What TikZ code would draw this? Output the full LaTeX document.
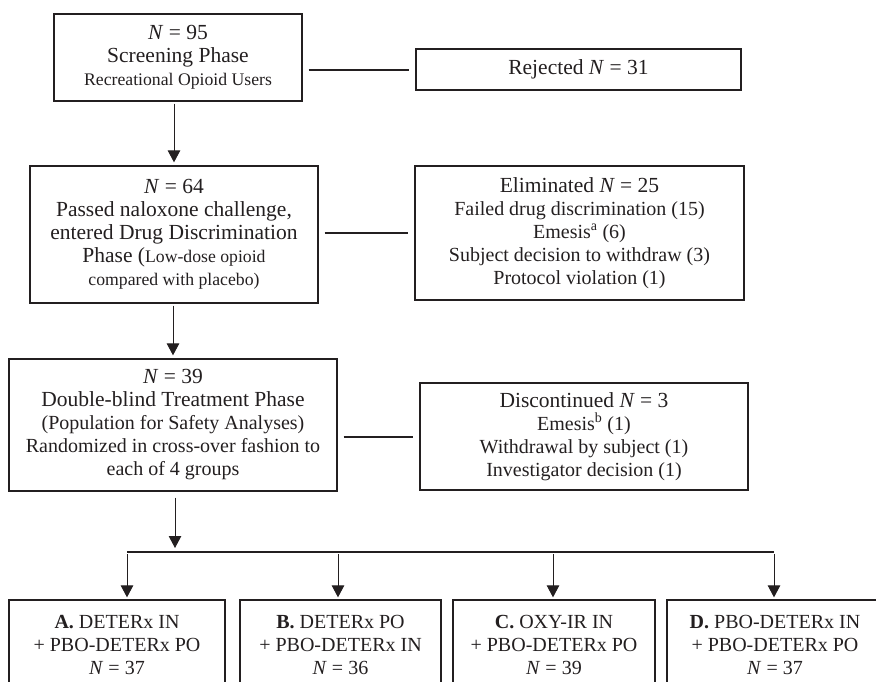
\documentclass[tikz,border=0pt]{standalone}
\usepackage{fontspec}
\setmainfont{Liberation Serif}
\usepackage{tikz}
\usetikzlibrary{arrows.meta}
\definecolor{flowink}{HTML}{231F20}
\newcommand{\medsz}{\fontsize{20}{23}\selectfont}
\newcommand{\smsz}{\fontsize{17.7}{23}\selectfont}

\begin{document}
\begin{tikzpicture}[x=1pt,y=-1pt,>={Triangle[width=12.5pt,length=12pt]},font=\fontsize{21.5}{23}\selectfont]

\tikzset{
phase/.style={
    draw=flowink,
    line width=1.3pt,
    text=flowink,
    align=center,
    inner sep=0pt
},
arm/.style={
    phase,
    font=\medsz,
    minimum height=90pt
},
arr/.style={->,line width=1pt,color=flowink},
link/.style={line width=2pt,color=flowink,shorten <=6pt,shorten >=6pt},
bus/.style={line width=1.3pt,color=flowink}
}

\useasboundingbox (0,0) rectangle (876,681);
\clip (0,0) rectangle (876,681);

% main column
\node[phase, minimum width=248pt, minimum height=87pt] (screen) at (178,57.5)
    {\textit{N} = 95\\Screening Phase\\{\smsz Recreational Opioid Users}};
\node[phase, minimum width=288pt, minimum height=137pt] (passed) at (174,234.5)
    {\textit{N} = 64\\Passed naloxone challenge,\\entered Drug Discrimination\\Phase ({\smsz Low-dose opioid}\\{\smsz compared with placebo)}};
\node[phase, minimum width=328pt, minimum height=132pt] (dbl) at (173,425)
    {\textit{N} = 39\\Double-blind Treatment Phase\\{\medsz (Population for Safety Analyses)}\\{\medsz Randomized in cross-over fashion to}\\{\medsz each of 4 groups}};

% drop-outs
\node[phase, minimum width=325pt, minimum height=41pt] (rejected) at (578.5,69.5)
    {Rejected \textit{N} = 31};
\node[phase, minimum width=329pt, minimum height=134pt] (elim) at (579.5,233)
    {Eliminated \textit{N} = 25\\{\medsz Failed drug discrimination (15)}\\{\medsz Emesis\textsuperscript{a} (6)}\\{\medsz Subject decision to withdraw (3)}\\{\medsz Protocol violation (1)}};
\node[phase, minimum width=328pt, minimum height=107pt] (disc) at (584,436.5)
    {Discontinued \textit{N} = 3\\{\medsz Emesis\textsuperscript{b} (1)}\\{\medsz Withdrawal by subject (1)}\\{\medsz Investigator decision (1)}};

% treatment groups
\node[arm, minimum width=216pt] (grpA) at (117,645)
    {\textbf{A.} DETERx IN\\+ PBO-DETERx PO\\\textit{N} = 37};
\node[arm, minimum width=201pt] (grpB) at (340.5,645)
    {\textbf{B.} DETERx PO\\+ PBO-DETERx IN\\\textit{N} = 36};
\node[arm, minimum width=202pt] (grpC) at (554,645)
    {\textbf{C.} OXY-IR IN\\+ PBO-DETERx PO\\\textit{N} = 39};
\node[arm, minimum width=216pt] (grpD) at (775,645)
    {\textbf{D.} PBO-DETERx IN\\+ PBO-DETERx PO\\\textit{N} = 37};

\coordinate (split) at (175,552);

\draw[link] (screen.east |- rejected.west) -- (rejected.west);
\draw[link] (passed.east |- elim.west) -- (elim.west);
\draw[link] (dbl.east |- disc.west) -- (disc.west);

\draw[arr, shorten <=2pt, shorten >=3pt] (screen.south -| passed.north) -- (passed.north);
\draw[arr, shorten <=2pt, shorten >=3pt] (passed.south -| dbl.north) -- (dbl.north);
\draw[arr, shorten <=6pt, shorten >=4pt] (dbl.south -| split) -- (split);

\draw[bus] ([xshift=10pt]grpA.north |- split) -- ([xshift=-1pt]grpD.north |- split);
\draw[arr, shorten <=2pt, shorten >=2pt] ([xshift=10pt]grpA.north |- split) -- ([xshift=10pt]grpA.north);
\draw[arr, shorten <=2pt, shorten >=2pt] ([xshift=-2.5pt]grpB.north |- split) -- ([xshift=-2.5pt]grpB.north);
\draw[arr, shorten <=2pt, shorten >=2pt] ([xshift=-1pt]grpC.north |- split) -- ([xshift=-1pt]grpC.north);
\draw[arr, shorten <=2pt, shorten >=2pt] ([xshift=-1pt]grpD.north |- split) -- ([xshift=-1pt]grpD.north);

\end{tikzpicture}
\end{document}
